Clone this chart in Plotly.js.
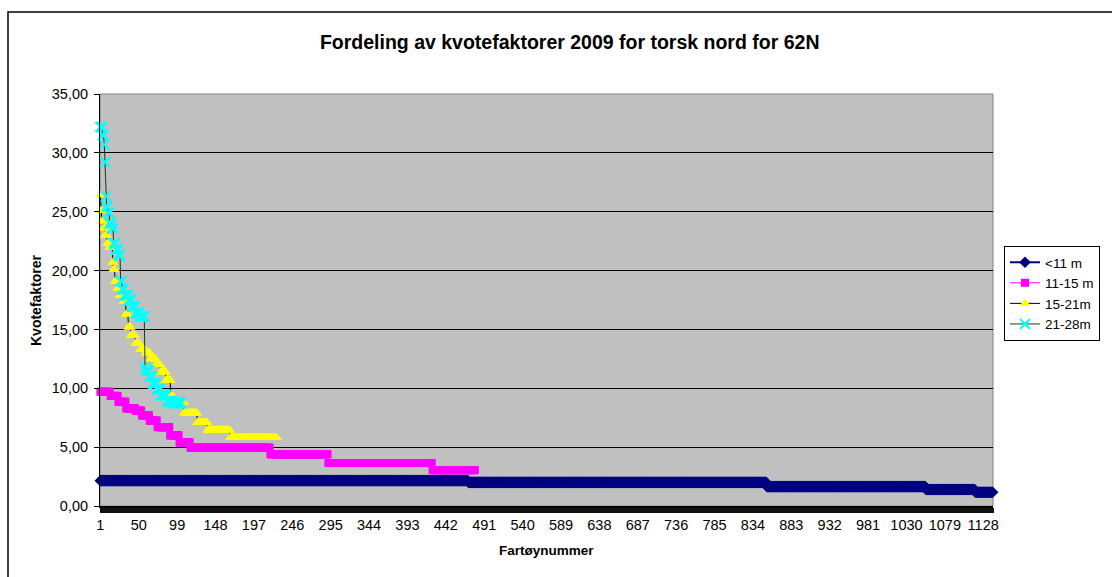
<!DOCTYPE html>
<html><head><meta charset="utf-8">
<script src="https://cdn.plot.ly/plotly-3.0.1.min.js"></script>
<style>html,body{margin:0;padding:0;background:#fff}</style>
</head><body><div id="chart" style="width:1112px;height:577px"></div>
<script>
// Series names
const seriesNames = ['<11 m', '11-15 m', '15-21m', '21-28m'];

// Step values: value held until vessel number given in *RunEnds
const under11Values  = [2.15, 2.0, 1.65, 1.4, 1.17];
const under11RunEnds = [470, 851, 1054, 1117, 1140];

const m11to15Values  = [9.7, 9.35, 8.85, 8.3, 8.1, 7.7, 7.25, 6.7, 6.0, 5.4, 4.95, 4.4, 3.65, 3.05];
const m11to15RunEnds = [13, 23, 33, 45, 53, 63, 73, 89, 101, 115, 217, 291, 424, 479];

const m15to21Values  = [26.4, 25.1, 24.2, 23.6, 23.0, 22.3, 22.0, 20.7, 20.1, 19.1, 18.5, 17.9, 17.4, 16.3, 15.2, 14.5, 13.8, 13.3, 13.0, 12.5, 12.0, 11.4, 10.7, 9.3, 8.8, 7.9, 7.1, 6.45, 5.8];
const m15to21RunEnds = [1, 2, 4, 6, 9, 12, 16, 17, 19, 22, 25, 30, 33, 36, 39, 45, 51, 58, 64, 71, 77, 84, 90, 94, 107, 124, 137, 166, 226];

const m21to28Values  = [32.2, 31.5, 30.7, 29.2, 26.3, 25.45, 24.9, 24.0, 23.6, 22.3, 21.8, 21.3, 19.1, 18.4, 17.9, 17.5, 16.95, 16.4, 16.1, 11.8, 11.5, 11.0, 10.4, 9.9, 9.4, 8.9, 8.75];
const m21to28RunEnds = [3, 5, 6, 7, 8, 10, 12, 15, 17, 20, 23, 26, 28, 31, 36, 40, 45, 50, 57, 58, 63, 67, 72, 77, 85, 94, 104];

// Category axis labels
const tickVessels = [1, 50, 99, 148, 197, 246, 295, 344, 393, 442, 491, 540, 589, 638, 687, 736, 785, 834, 883, 932, 981, 1030, 1079, 1128];
const tickLabels = tickVessels.map(String);
const vesselCount = 1140;

function expandRuns(values, ends) {
  const x = [], y = [];
  let start = 1;
  for (let i = 0; i < values.length; i++) {
    for (let k = start; k <= ends[i]; k++) { x.push(k); y.push(values[i]); }
    start = ends[i] + 1;
  }
  return {x, y};
}

const s1 = expandRuns(under11Values, under11RunEnds);
const s2 = expandRuns(m11to15Values, m11to15RunEnds);
const s3 = expandRuns(m15to21Values, m15to21RunEnds);
const s4 = expandRuns(m21to28Values, m21to28RunEnds);

const FONT = 'Liberation Sans, Arial, sans-serif';

const traces = [
  {x: s1.x, y: s1.y, name: seriesNames[0], type: 'scatter', mode: 'lines+markers', cliponaxis: false,
   line: {color: '#000080', width: 2}, marker: {symbol: 'diamond', size: 9, color: '#000080'}},
  {x: s2.x, y: s2.y, name: seriesNames[1], type: 'scatter', mode: 'lines+markers', cliponaxis: false,
   line: {color: '#FF00FF', width: 1}, marker: {symbol: 'square', size: 8, color: '#FF00FF'}},
  {x: s3.x, y: s3.y, name: seriesNames[2], type: 'scatter', mode: 'lines+markers', cliponaxis: false,
   line: {color: '#000000', width: 1}, marker: {symbol: 'triangle-up', size: 9.5, color: '#FFFF00'}},
  {x: s4.x, y: s4.y, name: seriesNames[3], type: 'scatter', mode: 'lines+markers', cliponaxis: false,
   line: {color: '#1a3a1a', width: 1}, marker: {symbol: 'x-thin-open', size: 10, color: '#00FFFF', line: {color: '#00FFFF', width: 2}}}
];

const layout = {
  width: 1112, height: 577,
  margin: {l: 100, r: 119, t: 94, b: 71, autoexpand: false},
  paper_bgcolor: '#ffffff',
  plot_bgcolor: '#C0C0C0',
  separators: ',.',
  font: {family: FONT, size: 14.5, color: '#000'},
  title: {text: 'Fordeling av kvotefaktorer 2009 for torsk nord for 62N',
          font: {family: FONT, size: 19.5, weight: 'bold', color: '#000'},
          xref: 'paper', x: 0.526, xanchor: 'center', y: 1 - 42/577, yanchor: 'middle'},
  xaxis: {
    type: 'linear', range: [0.5, vesselCount + 0.5], autorange: false,
    tickmode: 'array', tickvals: tickVessels, ticktext: tickLabels,
    ticks: '', showgrid: false, zeroline: false,
    showline: true, linecolor: '#000', linewidth: 1.5,
    tickfont: {family: FONT, size: 14.5, color: '#000'},
    minor: {ticks: 'outside', tick0: 0.5, dtick: 1, ticklen: 5, tickwidth: 1, tickcolor: '#111', showgrid: false},
    ticklabelstandoff: 5
  },
  yaxis: {
    range: [0, 35], autorange: false, dtick: 5, tick0: 0, tickformat: '.2f',
    ticks: 'outside', ticklen: 5, tickcolor: '#000', tickwidth: 1,
    showline: true, linecolor: '#000', linewidth: 1,
    showgrid: true, gridcolor: '#000', gridwidth: 1,
    zeroline: false, ticklabelstandoff: 3,
    tickfont: {family: FONT, size: 14.5, color: '#000'}
  },
  legend: {
    x: (1004 - 100) / 893, xanchor: 'left', y: (506 - 246) / 412, yanchor: 'top',
    bgcolor: '#ffffff', bordercolor: '#000', borderwidth: 1,
    font: {family: FONT, size: 13.5, color: '#000'},
    tracegroupgap: 0, itemwidth: 30
  },
  showlegend: true,
  shapes: [
    {type: 'rect', xref: 'paper', yref: 'paper', x0: 0, x1: 1, y0: 0, y1: 1,
     line: {color: '#808080', width: 1}, layer: 'between'},
    {type: 'rect', xref: 'paper', yref: 'paper',
     x0: (8 - 100) / 893, x1: (1130 - 100) / 893, y0: (506 - 600) / 412, y1: (506 - 12) / 412,
     line: {color: '#000', width: 1.5}, layer: 'above'}
  ],
  annotations: [
    {text: 'Kvotefaktorer', xref: 'paper', yref: 'paper', x: (36 - 100) / 893, y: 0.5,
     textangle: -90, showarrow: false, xanchor: 'center', yanchor: 'middle',
     font: {family: FONT, size: 14, weight: 'bold', color: '#000'}},
    {text: 'Fartøynummer', xref: 'paper', yref: 'paper', x: 0.5, y: (506 - 550) / 412,
     showarrow: false, xanchor: 'center', yanchor: 'middle',
     font: {family: FONT, size: 13.5, weight: 'bold', color: '#000'}}
  ]
};

Plotly.newPlot('chart', traces, layout, {displayModeBar: false, staticPlot: true});
</script></body></html>
